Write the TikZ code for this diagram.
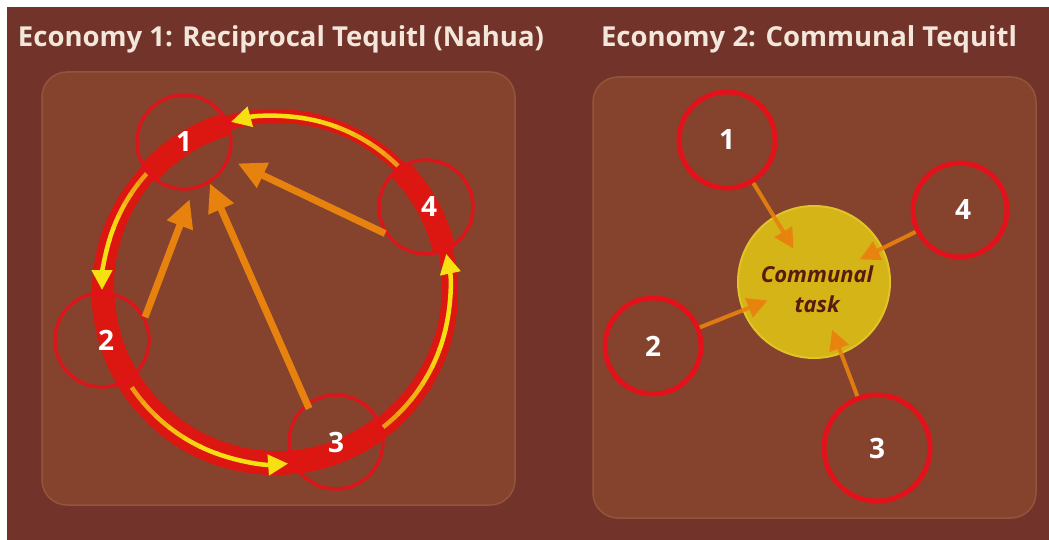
\documentclass[tikz,border=0pt]{standalone}
\usepackage{fontspec}
\setmainfont{Open Sans}
\usetikzlibrary{arrows.meta}
\definecolor{bgc}{HTML}{72332A}
\definecolor{panel}{HTML}{85432E}
\definecolor{panelb}{HTML}{93543C}
\definecolor{ringred}{HTML}{DC1610}
\definecolor{nodered}{HTML}{E3121A}
\definecolor{yel}{HTML}{F7E012}
\definecolor{yelo}{HTML}{EE9A14}
\definecolor{org}{HTML}{E8820E}
\definecolor{gold}{HTML}{D4B416}
\definecolor{goldb}{HTML}{E2C428}
\definecolor{taskt}{HTML}{5A1A0E}
\definecolor{titlec}{HTML}{F3E6DA}
\tikzset{
  panelbox/.style={fill=panel, draw=panelb, line width=1.5pt, rounded corners=25pt},
  titletext/.style={text=titlec, font=\bfseries\fontsize{27.5}{30}\selectfont, inner sep=0pt, anchor=base},
  lnode/.style={circle, draw=nodered, draw opacity=0.9, line width=3.5pt, minimum size=94pt, inner sep=0pt,
     text=white, font=\bfseries\fontsize{28}{30}\selectfont},
  rnode/.style={circle, draw=nodered, line width=5pt, minimum size=96pt, inner sep=0pt,
     text=white, font=\bfseries\fontsize{28}{30}\selectfont},
  ringarrow/.style={yel, line width=4.5pt, -{Triangle[length=20pt,width=20pt]}},
  bigarrow/.style={org, line width=7pt, -{Triangle[length=28pt,width=26pt]}},
  smallarrow/.style={org, opacity=0.9, line width=4pt, -{Triangle[length=20pt,width=20pt]}},
  taskbox/.style={circle, fill=gold, draw=goldb, line width=2pt, minimum size=152pt, inner sep=0pt},
  tasktext/.style={text=taskt, align=center, inner sep=0pt, font=\bfseries\itshape\fontsize{22}{30}\selectfont}
}
% yellow ring arc from angle #1 to #2, orange at its start, with an arrow tip at its end
\newcommand{\ringflow}[2]{%
  \foreach \k in {0,1,2,3,4,5}{%
    \pgfmathsetmacro{\sa}{#1+(#2-#1)*\k/10}%
    \pgfmathsetmacro{\sb}{#1+(#2-#1)*(\k+1)/10+0.4}%
    \pgfmathtruncatemacro{\pc}{\k*20}%
    \draw[yel!\pc!yelo, line width=4.5pt] ([shift={(C)}]\sa:174) arc (\sa:\sb:174);
  }%
  \pgfmathsetmacro{\sm}{#1+(#2-#1)*0.6}%
  \draw[ringarrow] ([shift={(C)}]\sm:174) arc (\sm:#2:174);
}
\begin{document}
\begin{tikzpicture}[x=1pt,y=1pt]
\useasboundingbox (0,0) rectangle (1049,-540);
\fill[white] (0,0) rectangle (1049,-540);
\fill[bgc] (7,-7) rectangle (1049,-540);
% panels
\draw[panelbox] (42,-72) rectangle (515,-505);
\draw[panelbox] (593,-77) rectangle (1036,-518);
% titles
\node[titletext] (t1) at (281,-47) {Economy 1: Reciprocal Tequitl (Nahua)};
\node[titletext] (t2) at (809,-47) {Economy 2: Communal Tequitl};
% ---- Economy 1 ----
\coordinate (C) at (276,-290);
\coordinate (p1) at (184,-142);
\coordinate (p2) at (102,-340);
\coordinate (p3) at (336,-442);
\coordinate (p4) at (426,-207);
\fill[ringred, even odd rule] (275,-292) circle (183) (278,-287) circle (164);
% thicker band inside each member circle
\foreach \p/\t in {p1/122, p2/196, p3/291.5, p4/29}{
  \begin{scope}
    \clip (\p) circle (46);
    \draw[ringred, line width=23pt] ([shift={(C)}]\t-25:173) arc (\t-25:\t+25:173);
  \end{scope}
}
\ringflow{45.5}{105}
\ringflow{138}{180}
\ringflow{214}{274}
\ringflow{308}{372}
\node[lnode] (n1) at (p1) {1};
\node[lnode] (n2) at (p2) {\hspace*{8pt}2};
\node[lnode] (n3) at (p3) {3};
\node[lnode] (n4) at (p4) {\hspace*{6pt}4};
\draw[bigarrow, shorten >=10pt] (n2.28) -- (n1.-79);
\draw[bigarrow, shorten <=-6pt] (n3.127) -- (n1.-58);
\draw[bigarrow, shorten >=9pt] (n4.213) -- (n1.-21);
% ---- Economy 2 ----
\node[taskbox] (task) at (814,-282) {};
\node[tasktext] (tasklabel) at (817,-289) {Communal\\task};
\node[rnode] (r1) at (727,-140) {1};
\node[rnode] (r2) at (653,-346) {2};
\node[rnode, minimum size=106pt] (r3) at (877,-448) {3};
\node[rnode, minimum size=94pt] (r4) at (960,-210) {\hspace*{6pt}4};
\draw[smallarrow, shorten >=-38pt] (r1) -- (task);
\draw[smallarrow, shorten >=-27pt] (r2) -- (task);
\draw[smallarrow, shorten >=-26pt] (r3) -- (task);
\draw[smallarrow, shorten >=-26pt] (r4) -- (task);
\end{tikzpicture}
\end{document}
